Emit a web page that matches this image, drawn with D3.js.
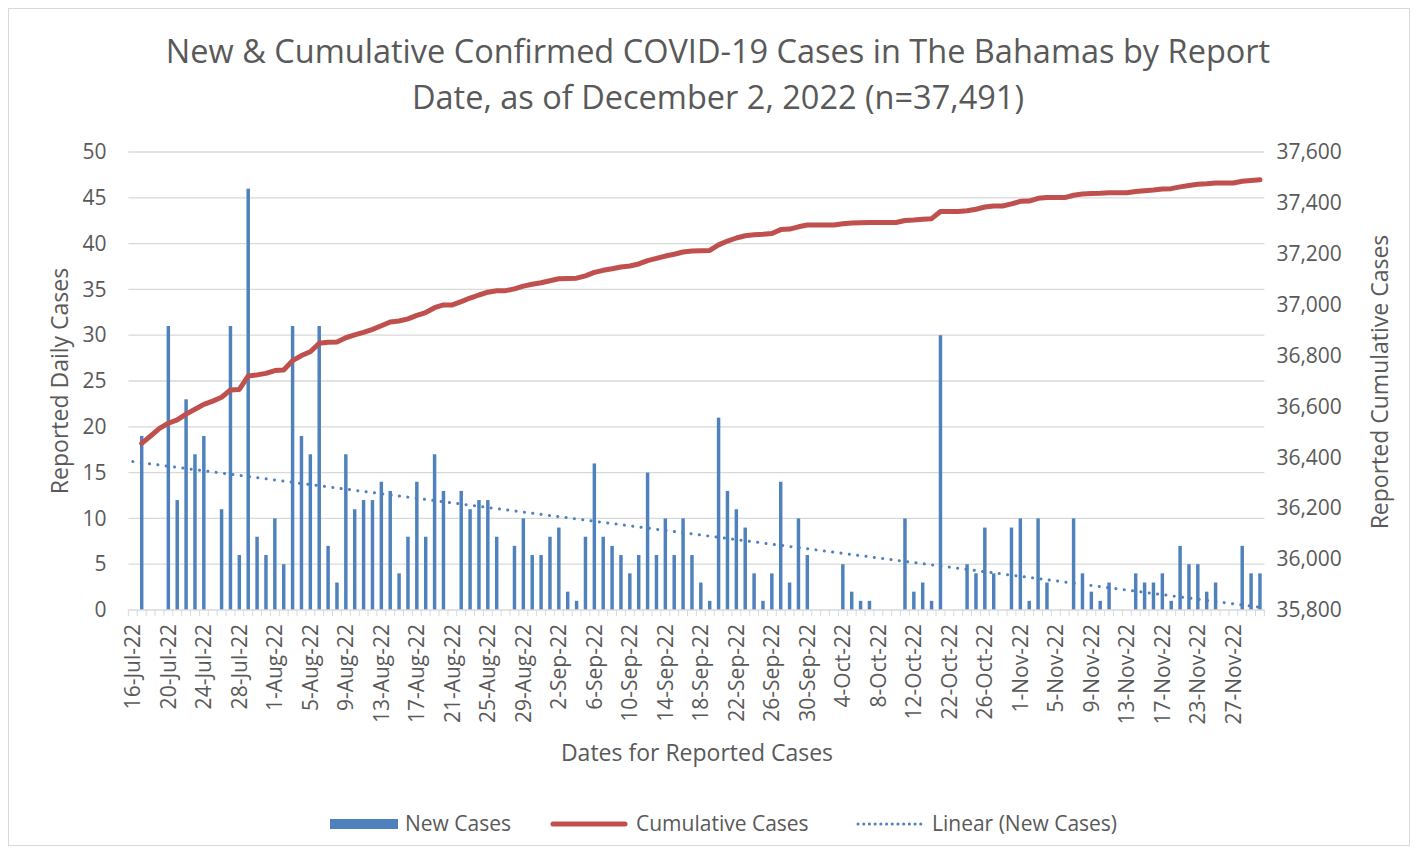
<!DOCTYPE html>
<html><head><meta charset="utf-8">
<script src="https://cdn.jsdelivr.net/npm/d3@7"></script>
<style>
body{margin:0;background:#fff}
svg{display:block}
text{font-family:'Open Sans',sans-serif;fill:#595959}
</style>
</head><body>
<svg id="chart" width="1418" height="854"></svg>
<script>
const categories = [
"16-Jul-22","17-Jul-22","18-Jul-22","19-Jul-22","20-Jul-22","21-Jul-22","22-Jul-22","23-Jul-22","24-Jul-22","25-Jul-22",
"26-Jul-22","27-Jul-22","28-Jul-22","29-Jul-22","30-Jul-22","31-Jul-22","1-Aug-22","2-Aug-22","3-Aug-22","4-Aug-22",
"5-Aug-22","6-Aug-22","7-Aug-22","8-Aug-22","9-Aug-22","10-Aug-22","11-Aug-22","12-Aug-22","13-Aug-22","14-Aug-22",
"15-Aug-22","16-Aug-22","17-Aug-22","18-Aug-22","19-Aug-22","20-Aug-22","21-Aug-22","22-Aug-22","23-Aug-22","24-Aug-22",
"25-Aug-22","26-Aug-22","27-Aug-22","28-Aug-22","29-Aug-22","30-Aug-22","31-Aug-22","1-Sep-22","2-Sep-22","3-Sep-22",
"4-Sep-22","5-Sep-22","6-Sep-22","7-Sep-22","8-Sep-22","9-Sep-22","10-Sep-22","11-Sep-22","12-Sep-22","13-Sep-22",
"14-Sep-22","15-Sep-22","16-Sep-22","17-Sep-22","18-Sep-22","19-Sep-22","20-Sep-22","21-Sep-22","22-Sep-22","23-Sep-22",
"24-Sep-22","25-Sep-22","26-Sep-22","27-Sep-22","28-Sep-22","29-Sep-22","30-Sep-22","1-Oct-22","2-Oct-22","3-Oct-22",
"4-Oct-22","5-Oct-22","6-Oct-22","7-Oct-22","8-Oct-22","9-Oct-22","10-Oct-22","11-Oct-22","12-Oct-22","13-Oct-22",
"14-Oct-22","21-Oct-22","22-Oct-22","23-Oct-22","24-Oct-22","25-Oct-22","26-Oct-22","27-Oct-22","28-Oct-22","31-Oct-22",
"1-Nov-22","2-Nov-22","3-Nov-22","4-Nov-22","5-Nov-22","6-Nov-22","7-Nov-22","8-Nov-22","9-Nov-22","10-Nov-22",
"11-Nov-22","12-Nov-22","13-Nov-22","14-Nov-22","15-Nov-22","16-Nov-22","17-Nov-22","18-Nov-22","21-Nov-22","22-Nov-22",
"23-Nov-22","24-Nov-22","25-Nov-22","26-Nov-22","27-Nov-22","28-Nov-22","29-Nov-22","30-Nov-22"
];
const newCases = [
null,19,null,null,31,12,23,17,19,null,
11,31,6,46,8,6,10,5,31,19,
17,31,7,3,17,11,12,12,14,13,
4,8,14,8,17,13,null,13,11,12,
12,8,null,7,10,6,6,8,9,2,
1,8,16,8,7,6,4,6,15,6,
10,6,10,6,3,1,21,13,11,9,
4,1,4,14,3,10,6,null,null,null,
5,2,1,1,null,null,null,10,2,3,
1,30,null,null,5,4,9,4,null,9,
10,1,10,3,null,null,10,4,2,1,
3,null,null,4,3,3,4,1,7,5,
5,2,3,null,null,7,4,4
];
const cumulativeCases = [
null,36455,36484,36514,36534,36547,36570,36589,36608,36621,
36636,36665,36667,36720,36724,36730,36741,36743,36780,36800,
36815,36848,36852,36853,36870,36881,36891,36903,36917,36932,
36936,36944,36958,36969,36988,36999,36999,37012,37026,37038,
37049,37055,37055,37062,37073,37080,37086,37094,37102,37103,
37104,37113,37127,37135,37141,37148,37152,37160,37173,37182,
37191,37198,37207,37211,37212,37213,37235,37250,37262,37271,
37275,37277,37280,37295,37297,37306,37313,37313,37313,37313,
37318,37321,37322,37323,37323,37323,37323,37331,37333,37336,
37338,37366,37366,37366,37369,37375,37384,37388,37388,37396,
37406,37407,37418,37421,37421,37421,37430,37435,37437,37438,
37440,37440,37440,37445,37448,37451,37455,37456,37463,37468,
37473,37475,37478,37478,37478,37485,37488,37491
];
// Linear trend of New Cases, read at the first and last category
const trendValues = [16.2, 0.3];
const leftTicks = [0,5,10,15,20,25,30,35,40,45,50];
const rightTicks = [35800,36000,36200,36400,36600,36800,37000,37200,37400,37600];
const titleLines = ["New & Cumulative Confirmed COVID-19 Cases in The Bahamas by Report","Date, as of December 2, 2022 (n=37,491)"];
const legendLabels = ["New Cases","Cumulative Cases","Linear (New Cases)"];

const W = 1418, H = 854;
const plot = {left:128.4, right:1264.4, top:152, bottom:610};
const blue = "#4F81BD", red = "#C0504D", grid = "#D9D9D9";
const tickFont = "21px", axisTitleFont = "23px", legendFont = "21px";

const svg = d3.select("#chart");
svg.append("rect").attr("x",8.5).attr("y",8.5).attr("width",W-17).attr("height",H-17)
  .attr("fill","#fff").attr("stroke",grid);

const x = d3.scaleBand().domain(categories).range([plot.left, plot.right]).padding(0);
const yL = d3.scaleLinear().domain([0,50]).range([plot.bottom, plot.top]);
const yR = d3.scaleLinear().domain([35800,37600]).range([plot.bottom, plot.top]);
const bw = x.bandwidth();
const cx = d => x(d) + bw/2;

// gridlines
svg.append("g").selectAll("line").data(leftTicks.filter(t=>t>0)).join("line")
  .attr("x1",plot.left).attr("x2",plot.right)
  .attr("y1",d=>yL(d)).attr("y2",d=>yL(d))
  .attr("stroke",grid).attr("stroke-width",1.3);

// bars
const barW = bw*0.39;
svg.append("g").selectAll("rect")
  .data(categories.map((c,i)=>({c, v:newCases[i]})).filter(d=>d.v!=null))
  .join("rect")
  .attr("x",d=>cx(d.c)-barW/2).attr("width",barW)
  .attr("y",d=>yL(d.v)).attr("height",d=>yL(0)-yL(d.v))
  .attr("fill",blue);

// x axis line + boundary ticks
svg.append("line").attr("x1",plot.left).attr("x2",plot.right)
  .attr("y1",plot.bottom).attr("y2",plot.bottom).attr("stroke",grid).attr("stroke-width",1.3);
const bounds = categories.map(c=>x(c)).concat([plot.right]);
svg.append("g").selectAll("line").data(bounds).join("line")
  .attr("x1",d=>d).attr("x2",d=>d).attr("y1",plot.bottom).attr("y2",plot.bottom+6)
  .attr("stroke",grid).attr("stroke-width",1);

// x labels (every 4th category)
svg.append("g").selectAll("text")
  .data(categories.filter((c,i)=>i%4===0)).join("text")
  .attr("transform",d=>`translate(${cx(d)},${plot.bottom+14}) rotate(-90)`)
  .attr("text-anchor","end").attr("dy","0.35em")
  .style("font-size",tickFont).text(d=>d);

// trend line
svg.append("line")
  .attr("x1",cx(categories[0])).attr("y1",yL(trendValues[0]))
  .attr("x2",cx(categories[categories.length-1])).attr("y2",yL(trendValues[1]))
  .attr("stroke",blue).attr("stroke-width",3).attr("stroke-linecap","round")
  .attr("stroke-dasharray","0.1 8.3");

// cumulative line
const line = d3.line().defined(d=>d.v!=null).x(d=>cx(d.c)).y(d=>yR(d.v));
svg.append("path").datum(categories.map((c,i)=>({c, v:cumulativeCases[i]})))
  .attr("d",line).attr("fill","none").attr("stroke",red)
  .attr("stroke-width",5).attr("stroke-linejoin","round").attr("stroke-linecap","round");

// left axis
const la = svg.append("g").attr("transform",`translate(${plot.left},0)`)
  .call(d3.axisLeft(yL).tickValues(leftTicks).tickSize(0).tickPadding(22));
la.select(".domain").remove();
la.selectAll("text").style("font-size",tickFont).style("font-family","'Open Sans',sans-serif").attr("fill","#595959");

// right axis
const ra = svg.append("g").attr("transform",`translate(${plot.right},0)`)
  .call(d3.axisRight(yR).tickValues(rightTicks).tickSize(0).tickPadding(12).tickFormat(d3.format(",")));
ra.select(".domain").remove();
ra.selectAll("text").style("font-size",tickFont).style("font-family","'Open Sans',sans-serif").attr("fill","#595959");

// axis titles
svg.append("text").attr("transform","translate(60,381) rotate(-90)")
  .attr("text-anchor","middle").attr("dy","0.35em").style("font-size",axisTitleFont).text("Reported Daily Cases");
svg.append("text").attr("transform","translate(1380,382) rotate(-90)")
  .attr("text-anchor","middle").attr("dy","0.35em").style("font-size",axisTitleFont).text("Reported Cumulative Cases");
svg.append("text").attr("x",697).attr("y",753).attr("text-anchor","middle").attr("dy","0.35em")
  .style("font-size",axisTitleFont).text("Dates for Reported Cases");

// title
svg.append("g").selectAll("text").data(titleLines).join("text")
  .attr("x",718).attr("y",(d,i)=>52+i*46).attr("text-anchor","middle").attr("dy","0.35em")
  .style("font-size","32.5px").text(d=>d);

// legend
const lg = svg.append("g");
lg.append("rect").attr("x",330).attr("y",819).attr("width",68).attr("height",10).attr("fill",blue);
lg.append("text").attr("x",405).attr("y",824).attr("dy","0.35em").style("font-size",legendFont).text(legendLabels[0]);
lg.append("line").attr("x1",553).attr("x2",625).attr("y1",824).attr("y2",824)
  .attr("stroke",red).attr("stroke-width",5).attr("stroke-linecap","round");
lg.append("text").attr("x",636).attr("y",824).attr("dy","0.35em").style("font-size",legendFont).text(legendLabels[1]);
lg.append("line").attr("x1",858).attr("x2",926).attr("y1",824).attr("y2",824)
  .attr("stroke",blue).attr("stroke-width",3).attr("stroke-linecap","round").attr("stroke-dasharray","0.1 5.6");
lg.append("text").attr("x",932).attr("y",824).attr("dy","0.35em").style("font-size",legendFont).text(legendLabels[2]);
</script>
</body></html>
